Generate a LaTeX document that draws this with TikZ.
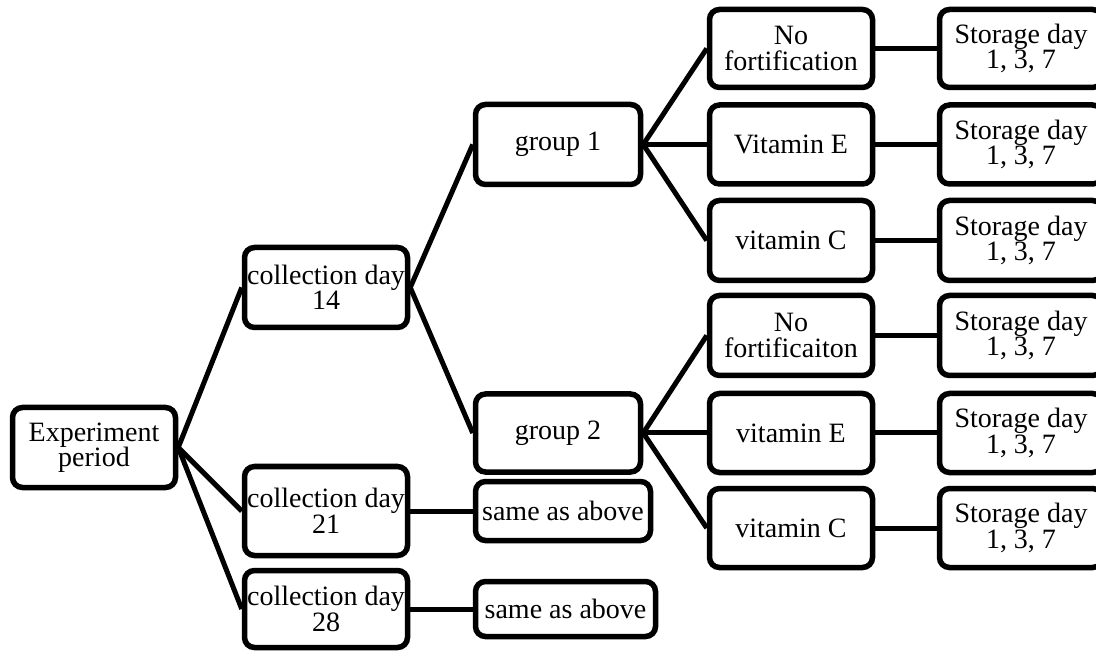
\documentclass[tikz,border=0pt]{standalone}
\usepackage{fontspec}
\setmainfont{Liberation Serif}
\begin{document}
\begin{tikzpicture}[x=1pt,y=-1pt,
  box/.style={draw=black, line width=5.5pt, rounded corners=10pt, fill=white,
    align=center, inner sep=0pt, font=\fontsize{28}{25.5}\selectfont},
  link/.style={draw=black, line width=5pt}]
\useasboundingbox (0,0) rectangle (1096,652);
\node[box, minimum width=163pt, minimum height=80pt] (exp) at (94,447.5) {Experiment\\period};
\node[box, minimum width=163pt, minimum height=80pt] (c14) at (326,287.5) {collection day\\14};
\node[box, minimum width=163pt, minimum height=89pt] (c21) at (326,511) {collection day\\21};
\node[box, minimum width=163pt, minimum height=77pt] (c28) at (326,609) {collection day\\28};
\node[box, minimum width=175pt, minimum height=59pt] (s1) at (563,511) {same as above};
\node[box, minimum width=180pt, minimum height=55pt] (s2) at (565.5,609) {same as above};
\node[box, minimum width=165pt, minimum height=80pt] (g1) at (558,144.5) {group 1};
\node[box, minimum width=165pt, minimum height=78pt] (g2) at (558,433) {group 2};
\node[box, minimum width=163pt, minimum height=78pt] (f1) at (791,48.5) {No\\fortification};
\node[box, minimum width=163pt, minimum height=79pt] (f2) at (791,144.5) {Vitamin E};
\node[box, minimum width=163pt, minimum height=80pt] (f3) at (791,240.5) {vitamin C};
\node[box, minimum width=163pt, minimum height=80pt] (f4) at (791,335.5) {No\\fortificaiton};
\node[box, minimum width=163pt, minimum height=79pt] (f5) at (791,433) {vitamin E};
\node[box, minimum width=163pt, minimum height=79pt] (f6) at (791,528) {vitamin C};
\node[box, minimum width=163pt, minimum height=78pt] (d1) at (1021,48.5) {Storage day\\1, 3, 7};
\node[box, minimum width=163pt, minimum height=79pt] (d2) at (1021,144.5) {Storage day\\1, 3, 7};
\node[box, minimum width=163pt, minimum height=80pt] (d3) at (1021,240.5) {Storage day\\1, 3, 7};
\node[box, minimum width=163pt, minimum height=80pt] (d4) at (1021,335.5) {Storage day\\1, 3, 7};
\node[box, minimum width=163pt, minimum height=79pt] (d5) at (1021,433) {Storage day\\1, 3, 7};
\node[box, minimum width=163pt, minimum height=79pt] (d6) at (1021,528) {Storage day\\1, 3, 7};
\draw[link] (exp.east) -- (c14.west);
\draw[link] (exp.east) -- (c21.west);
\draw[link] (exp.east) -- (c28.west);
\draw[link] (c14.east) -- (g1.west);
\draw[link] (c14.east) -- (g2.west);
\draw[link] (c21.east) -- (s1.west);
\draw[link] (c28.east) -- (s2.west);
\draw[link] (g1.east) -- (f1.west);
\draw[link] (g1.east) -- (f2.west);
\draw[link] (g1.east) -- (f3.west);
\draw[link] (g2.east) -- (f4.west);
\draw[link] (g2.east) -- (f5.west);
\draw[link] (g2.east) -- (f6.west);
\draw[link] (f1.east) -- (d1.west);
\draw[link] (f2.east) -- (d2.west);
\draw[link] (f3.east) -- (d3.west);
\draw[link] (f4.east) -- (d4.west);
\draw[link] (f5.east) -- (d5.west);
\draw[link] (f6.east) -- (d6.west);
\end{tikzpicture}
\end{document}
